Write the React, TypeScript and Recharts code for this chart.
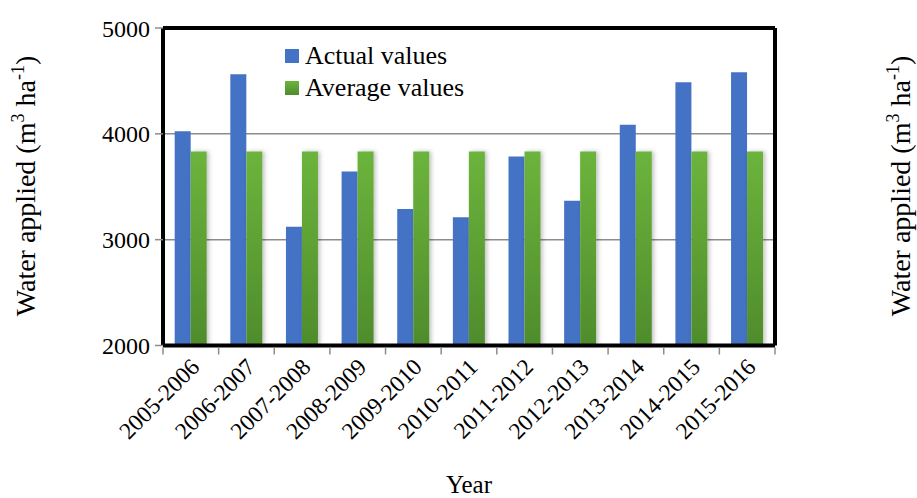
import React from "react";
import {
  BarChart,
  Bar,
  XAxis,
  YAxis,
  CartesianGrid,
  Legend,
  ReferenceLine,
} from "recharts";

const seasons = [
  "2005-2006",
  "2006-2007",
  "2007-2008",
  "2008-2009",
  "2009-2010",
  "2010-2011",
  "2011-2012",
  "2012-2013",
  "2013-2014",
  "2014-2015",
  "2015-2016",
];
const actualValues = [4025, 4563, 3123, 3645, 3290, 3211, 3786, 3368, 4085, 4488, 4582];
const averageValues = [3833, 3833, 3833, 3833, 3833, 3833, 3833, 3833, 3833, 3833, 3833];
const yTicks = [2000, 3000, 4000, 5000];

const data = seasons.map((s, i) => ({
  season: s,
  actual: actualValues[i],
  average: averageValues[i],
}));

const FONT = '"Liberation Serif", "Times New Roman", serif';
const W = 917;
const H = 498;
const PLOT_LEFT = 163;
const PLOT_RIGHT = 775;
const STEP = (PLOT_RIGHT - PLOT_LEFT) / seasons.length;

function XTick({ x, y, payload, index }: any) {
  const last = index === seasons.length - 1;
  return (
    <g>
      <line x1={x - STEP / 2} x2={x - STEP / 2} y1={y + 2} y2={y + 9} stroke="#8c8c8c" strokeWidth={1.5} />
      {last && (
        <line x1={x + STEP / 2} x2={x + STEP / 2} y1={y + 2} y2={y + 9} stroke="#8c8c8c" strokeWidth={1.5} />
      )}
      <text
        transform={`translate(${x + 10},${y + 23}) rotate(-45)`}
        textAnchor="end"
        fontFamily={FONT}
        fontSize={23.5}
        fill="#000"
      >
        {payload.value}
      </text>
    </g>
  );
}

function AxisTitle({ cx, cy }: { cx: number; cy: number }) {
  return (
    <text
      transform={`translate(${cx},${cy}) rotate(-90)`}
      textAnchor="middle"
      fontFamily={FONT}
      fontSize={28}
      fill="#000"
    >
      Water applied (m
      <tspan dy={-11} fontSize={18}>3</tspan>
      <tspan dy={11}> ha</tspan>
      <tspan dy={-11} fontSize={18}>-1</tspan>
      <tspan dy={11}>)</tspan>
    </text>
  );
}

function LegendBox() {
  const items = [
    { label: "Actual values", color: "#4472C4" },
    { label: "Average values", color: "linear-gradient(#6cb43c, #4f8c2c)" },
  ];
  return (
    <div style={{ fontFamily: FONT, fontSize: 26, color: "#000", lineHeight: "32px" }}>
      {items.map((it) => (
        <div key={it.label} style={{ display: "flex", alignItems: "center" }}>
          <span style={{ width: 14, height: 14, background: it.color, marginRight: 6, display: "inline-block" }} />
          <span>{it.label}</span>
        </div>
      ))}
    </div>
  );
}

export default function App() {
  return (
    <div style={{ position: "absolute", left: 0, top: 0, width: W, height: H, background: "#fff" }}>
      <BarChart
        width={W}
        height={H}
        data={data}
        margin={{ top: 28, right: 0, bottom: 0, left: 0 }}
        barCategoryGap="21%"
        barGap={0}
      >
        <defs>
          <linearGradient id="greenGrad" x1="0" y1="0" x2="0" y2="1">
            <stop offset="0%" stopColor="#6cb43c" />
            <stop offset="100%" stopColor="#4f8c2c" />
          </linearGradient>
          <filter id="barShadow" x="-20%" y="-5%" width="160%" height="110%">
            <feDropShadow dx={2} dy={0} stdDeviation={2} floodColor="#000" floodOpacity={0.25} />
          </filter>
        </defs>
        <CartesianGrid vertical={false} stroke="#8c8c8c" strokeWidth={1.5} yAxisId="left" />
        <XAxis
          dataKey="season"
          height={152.5}
          interval={0}
          tickLine={false}
          tickSize={0}
          tickMargin={0}
          axisLine={{ stroke: "#000", strokeWidth: 4 }}
          tick={<XTick />}
          label={{
            value: "Year",
            position: "insideBottom",
            offset: 5,
            style: { fontFamily: FONT, fontSize: 25, fill: "#000" },
          }}
        />
        <YAxis
          yAxisId="left"
          width={PLOT_LEFT}
          domain={[2000, 5000]}
          ticks={yTicks}
          interval={0}
          tickSize={8}
          tickMargin={5}
          tickLine={{ stroke: "#8c8c8c", strokeWidth: 1.5 }}
          axisLine={{ stroke: "#000", strokeWidth: 4 }}
          tick={{ fontFamily: FONT, fontSize: 24, fill: "#000" }}
          label={{ content: () => <AxisTitle cx={35} cy={186} /> }}
        />
        <YAxis
          yAxisId="right"
          orientation="right"
          width={W - PLOT_RIGHT}
          domain={[2000, 5000]}
          ticks={yTicks}
          interval={0}
          tickSize={8}
          tickMargin={7}
          tickLine={{ stroke: "#8c8c8c", strokeWidth: 1.5 }}
          axisLine={{ stroke: "#000", strokeWidth: 4 }}
          tick={{ fontFamily: FONT, fontSize: 24, fill: "#000" }}
          label={{ content: () => <AxisTitle cx={910} cy={186} /> }}
        />
        <ReferenceLine yAxisId="left" y={5000} stroke="#000" strokeWidth={4} />
        <Legend
          layout="vertical"
          verticalAlign="middle"
          align="center"
          content={<LegendBox />}
          wrapperStyle={{ position: "absolute", left: 285, top: 40, width: 220 }}
        />
        <Bar yAxisId="left" dataKey="actual" name="Actual values" fill="#4472C4" isAnimationActive={false} />
        <Bar
          yAxisId="left"
          dataKey="average"
          name="Average values"
          fill="url(#greenGrad)"
          filter="url(#barShadow)"
          isAnimationActive={false}
        />
      </BarChart>
    </div>
  );
}
